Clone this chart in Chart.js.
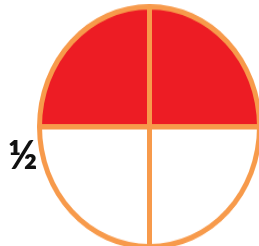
<!DOCTYPE html>
<html>
<head>
<meta charset="utf-8">
<script src="https://cdn.jsdelivr.net/npm/chart.js@4.4.0/dist/chart.umd.min.js"></script>
<style>
  html, body { margin: 0; padding: 0; background: #fff; overflow: hidden; }
  body { width: 259px; height: 246px; position: relative; }
  #wrap {
    position: absolute; left: 37px; top: 4px; width: 225px; height: 225px;
    transform: scaleY(1.091); transform-origin: top left;
  }
  #label {
    position: absolute; left: 8px; top: 134px;
    font-family: Lato, sans-serif; font-weight: 900; font-size: 40px;
    color: #111; line-height: 1;
  }
</style>
</head>
<body>
<div id="wrap"><canvas id="chart"></canvas></div>
<div id="label">½</div>
<script>
  // four equal quarters, starting at 12 o'clock, clockwise
  const parts = ['top right', 'bottom right', 'bottom left', 'top left'];
  const values = [1, 1, 1, 1];
  const shaded = [true, false, false, true];

  const RED = '#ED1C24';
  const ORANGE = '#F79A4B';

  const ctx = document.getElementById('chart').getContext('2d');
  new Chart(ctx, {
    type: 'pie',
    data: {
      labels: parts,
      datasets: [{
        data: values,
        backgroundColor: shaded.map(s => s ? RED : '#FFFFFF'),
        borderColor: ORANGE,
        borderWidth: 5
      }]
    },
    options: {
      responsive: true,
      maintainAspectRatio: false,
      animation: false,
      layout: { padding: 0 },
      plugins: {
        legend: { display: false },
        tooltip: { enabled: false }
      }
    }
  });
</script>
</body>
</html>
